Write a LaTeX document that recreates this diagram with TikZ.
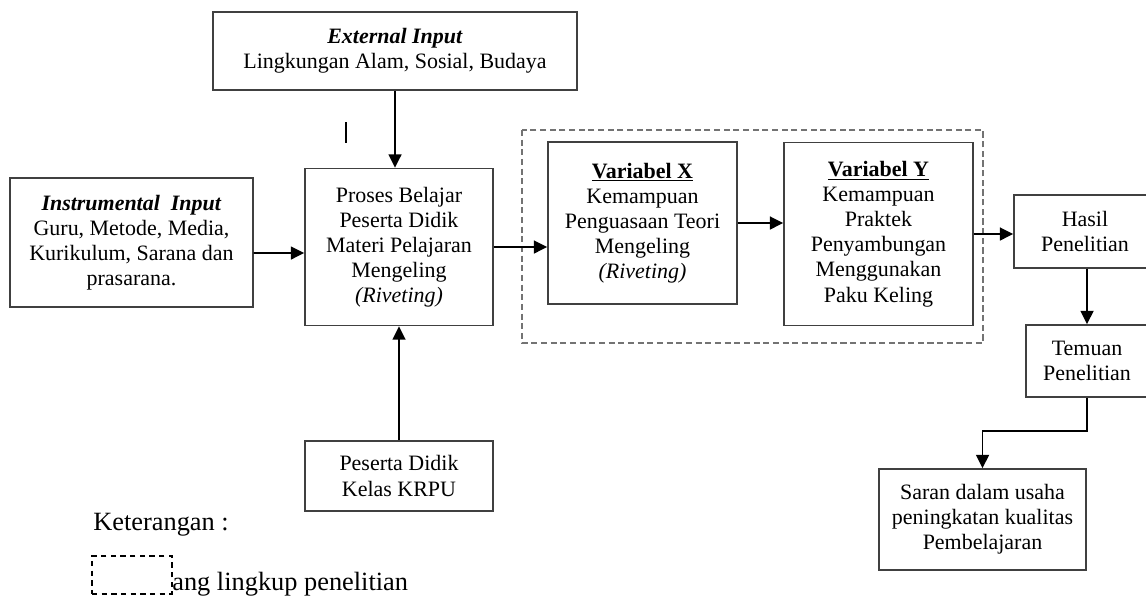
\documentclass[tikz,border=0pt]{standalone}
\usepackage{fontspec}
\setmainfont{Liberation Serif}
\usetikzlibrary{positioning,arrows.meta,calc}
\tikzset{
  box/.style={rectangle,draw=black!75,line width=0.85pt,align=center,
              inner sep=2pt,font=\fontsize{12.5}{14.3}\selectfont},
  flow/.style={-{Triangle[length=2.7mm,width=2.6mm]},line width=1pt},
  scopebox/.style={draw=black!55,dash pattern=on 3.5pt off 2pt,line width=0.7pt},
  legbox/.style={rectangle,draw,dash pattern=on 3pt off 2.5pt,line width=0.6pt},
  legtext/.style={font=\fontsize{15}{18}\selectfont,inner sep=0pt},
}

\begin{document}
\begin{tikzpicture}[x=0.02cm,y=-0.02cm]
\clip (0,0) rectangle (1146,595);
% inputs
\node[box, minimum width=7.28cm, minimum height=1.56cm] (ext) at (395,51)
      {\textbf{\textit{External Input}}\\Lingkungan Alam, Sosial, Budaya};
\node[box, minimum width=4.86cm, minimum height=2.58cm] (instr) at (131.5,242.5)
      {\textbf{\textit{Instrumental\ \ Input}}\\Guru, Metode, Media,\\
       Kurikulum, Sarana dan\\prasarana.};
\node[box, minimum width=3.76cm, minimum height=3.14cm] (proses) at (399,247)
      {Proses Belajar\\Peserta Didik\\Materi Pelajaran\\Mengeling\\\textit{(Riveting)}};
\node[box, minimum width=3.76cm, minimum height=1.40cm] (krpu) at (399,476)
      {Peserta Didik\\Kelas KRPU};
% scope of the research
\draw[scopebox] (522,130) rectangle (983,343);
\node[box, minimum width=3.78cm, minimum height=3.24cm] (varx) at (642.5,223)
      {\underline{\textbf{Variabel X}}\\Kemampuan\\Penguasaan Teori\\Mengeling\\
       \textit{(Riveting)}};
\node[box, minimum width=3.78cm, minimum height=3.66cm] (vary) at (878.5,234)
      {\underline{\textbf{Variabel Y}}\\Kemampuan\\Praktek\\Penyambungan\\
       Menggunakan\\Paku Keling};
% outputs
\node[box, minimum width=2.84cm, minimum height=1.46cm] (hasil) at (1085,231.5)
      {Hasil\\Penelitian};
\node[box, minimum width=2.44cm, minimum height=1.44cm] (temuan) at (1087,361)
      {Temuan\\Penelitian};
\node[box, minimum width=4.14cm, minimum height=2.02cm] (saran) at (982.5,519.5)
      {Saran dalam usaha\\peningkatan kualitas\\Pembelajaran};
% legend
\node[anchor=base west, legtext] (ket) at (93,530) {Keterangan :};
\node[legbox, minimum width=1.6cm, minimum height=0.76cm] (legrect) at (132,575) {};
\node[anchor=base west, legtext] (legtxt) at (172,590) {ang lingkup penelitian};
\draw[line width=1.3pt] (346,122) -- (346,143);

\draw[flow] ($(instr.east)+(0,10.5)$) -- ($(proses.west)+(0,6)$);
\draw[flow] (ext.south) -- (ext.south |- proses.north);
\draw[flow] (krpu.north) -- (proses.south);
\draw[flow] (proses.east) -- (proses.east -| varx.west);
\draw[flow] (varx.east) -- (varx.east -| vary.west);
\draw[flow] (vary.east) -- (vary.east -| hasil.west);
\draw[flow] (temuan.north |- hasil.south) -- (temuan.north);
\draw[flow] (temuan.south) -- ++(0,33) -| (saran.north);
\end{tikzpicture}
\end{document}
